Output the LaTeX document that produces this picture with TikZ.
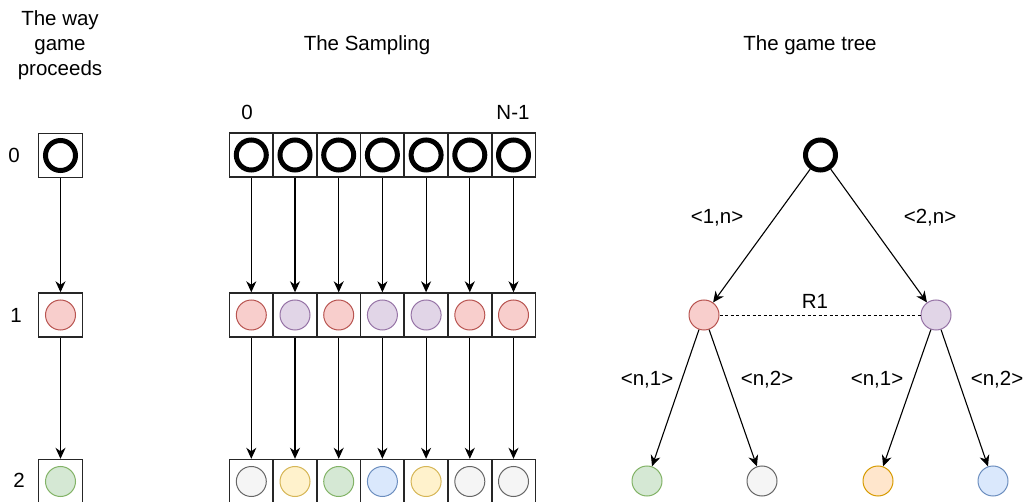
\documentclass[tikz,border=0pt]{standalone}
\usepackage{fontspec}
\setmainfont{Liberation Sans}
\usetikzlibrary{arrows.meta}

\definecolor{pinkfill}{HTML}{F8CECC}   \definecolor{pinkline}{HTML}{B85450}
\definecolor{purplefill}{HTML}{E1D5E7} \definecolor{purpleline}{HTML}{9673A6}
\definecolor{greenfill}{HTML}{D5E8D4}  \definecolor{greenline}{HTML}{82B366}
\definecolor{grayfill}{HTML}{F5F5F5}   \definecolor{grayline}{HTML}{666666}
\definecolor{yellowfill}{HTML}{FFF2CC} \definecolor{yellowline}{HTML}{D6B656}
\definecolor{bluefill}{HTML}{DAE8FC}   \definecolor{blueline}{HTML}{6C8EBF}
\definecolor{orangefill}{HTML}{FFE6CC} \definecolor{orangeline}{HTML}{D79B00}

\tikzset{
  cell/.style={draw=black!85, line width=1.4pt, minimum size=44pt, inner sep=0pt},
  ring/.style={circle, draw=black, line width=5pt, minimum size=30pt, inner sep=0pt},
  ball/.style={circle, line width=1pt, minimum size=30pt, inner sep=0pt},
  pinkball/.style={ball, draw=pinkline, fill=pinkfill},
  purpleball/.style={ball, draw=purpleline, fill=purplefill},
  greenball/.style={ball, draw=greenline, fill=greenfill},
  grayball/.style={ball, draw=grayline, fill=grayfill},
  yellowball/.style={ball, draw=yellowline, fill=yellowfill},
  blueball/.style={ball, draw=blueline, fill=bluefill},
  orangeball/.style={ball, draw=orangeline, fill=orangefill},
  flow/.style={line width=1.1pt, -{Stealth[length=11pt,width=10pt,inset=3.5pt]}},
  txt/.style={inner sep=0pt, font=\fontsize{20.5}{25}\selectfont}
}

\begin{document}
\begin{tikzpicture}[x=1pt, y=-1pt]
\useasboundingbox (0,0) rectangle (1023,502);

%HEADERS
\node[txt, align=center] (hway) at (60,45) {The way\\game\\proceeds};
\node[txt] (hsample) at (367,45) {The Sampling};
\node[txt] (htree) at (810,45) {The game tree};

%Step numbers
\node[txt] (n0) at (14,155) {0};
\node[txt] (n1) at (16,315) {1};
\node[txt] (n2) at (19,480) {2};

%WAY THE GAME PROCEEDS
\node[cell] (w0) at (60.5,155.5) {};
\node[ring] (w0c) at (w0) {};
\node[cell] (w1) at (60.5,315) {};
\node[pinkball] (w1c) at (w1) {};
\node[cell] (w2) at (60.5,481.5) {};
\node[greenball] (w2c) at (w2) {};
\draw[flow] (w0) -- (w1);
\draw[flow] (w1) -- (w2);

%SAMPLING
\node[txt] (first) at (247,112) {0};
\node[txt] (last) at (513,112) {N-1};
% step 0
\foreach \i/\x in {0/251.3,1/295.0,2/338.7,3/382.4,4/426.1,5/469.8,6/513.5}
{
\node[cell] (a\i) at (\x,155) {};
\node[ring] at (a\i) {};
}
% step 1
\foreach \i/\x/\c in {0/251.3/pinkball,1/295.0/purpleball,2/338.7/pinkball,3/382.4/purpleball,
                      4/426.1/purpleball,5/469.8/pinkball,6/513.5/pinkball}
{
\node[cell] (b\i) at (\x,315) {};
\node[\c] at (b\i) {};
}
% step 2
\foreach \i/\x/\c in {0/251.3/grayball,1/295.0/yellowball,2/338.7/greenball,3/382.4/blueball,
                      4/426.1/yellowball,5/469.8/grayball,6/513.5/grayball}
{
\node[cell] (c\i) at (\x,481.5) {};
\node[\c] at (c\i) {};
}
\foreach \i in {0,...,6}
{
\draw[flow] (a\i) -- (b\i);
\draw[flow] (b\i) -- (c\i);
}

%GAME TREE
\node[ring] (root) at (820.5,155) {};
\node[pinkball] (t1) at (704,315) {};
\node[purpleball] (t2) at (936,315) {};
\node[greenball] (t11) at (647,481) {};
\node[grayball] (t12) at (762,481) {};
\node[orangeball] (t21) at (878,481) {};
\node[blueball] (t22) at (993,481) {};

\draw[flow] (root) -- (t1);
\draw[flow] (root) -- (t2);
\draw[flow] (t1) -- (t11);
\draw[flow] (t1) -- (t12);
\draw[flow] (t2) -- (t21);
\draw[flow] (t2) -- (t22);
\draw[line width=0.8pt, dash pattern=on 3pt off 2.5pt] (t1) -- (t2);

%Edge labels
\node[txt] (e1) at (717,218) {<1,n>};
\node[txt] (e2) at (930,218) {<2,n>};
\node[txt] (r1) at (815,301) {R1};
\node[txt] (e11) at (647,380) {<n,1>};
\node[txt] (e12) at (767,380) {<n,2>};
\node[txt] (e21) at (877,380) {<n,1>};
\node[txt] (e22) at (997,380) {<n,2>};

\end{tikzpicture}
\end{document}
